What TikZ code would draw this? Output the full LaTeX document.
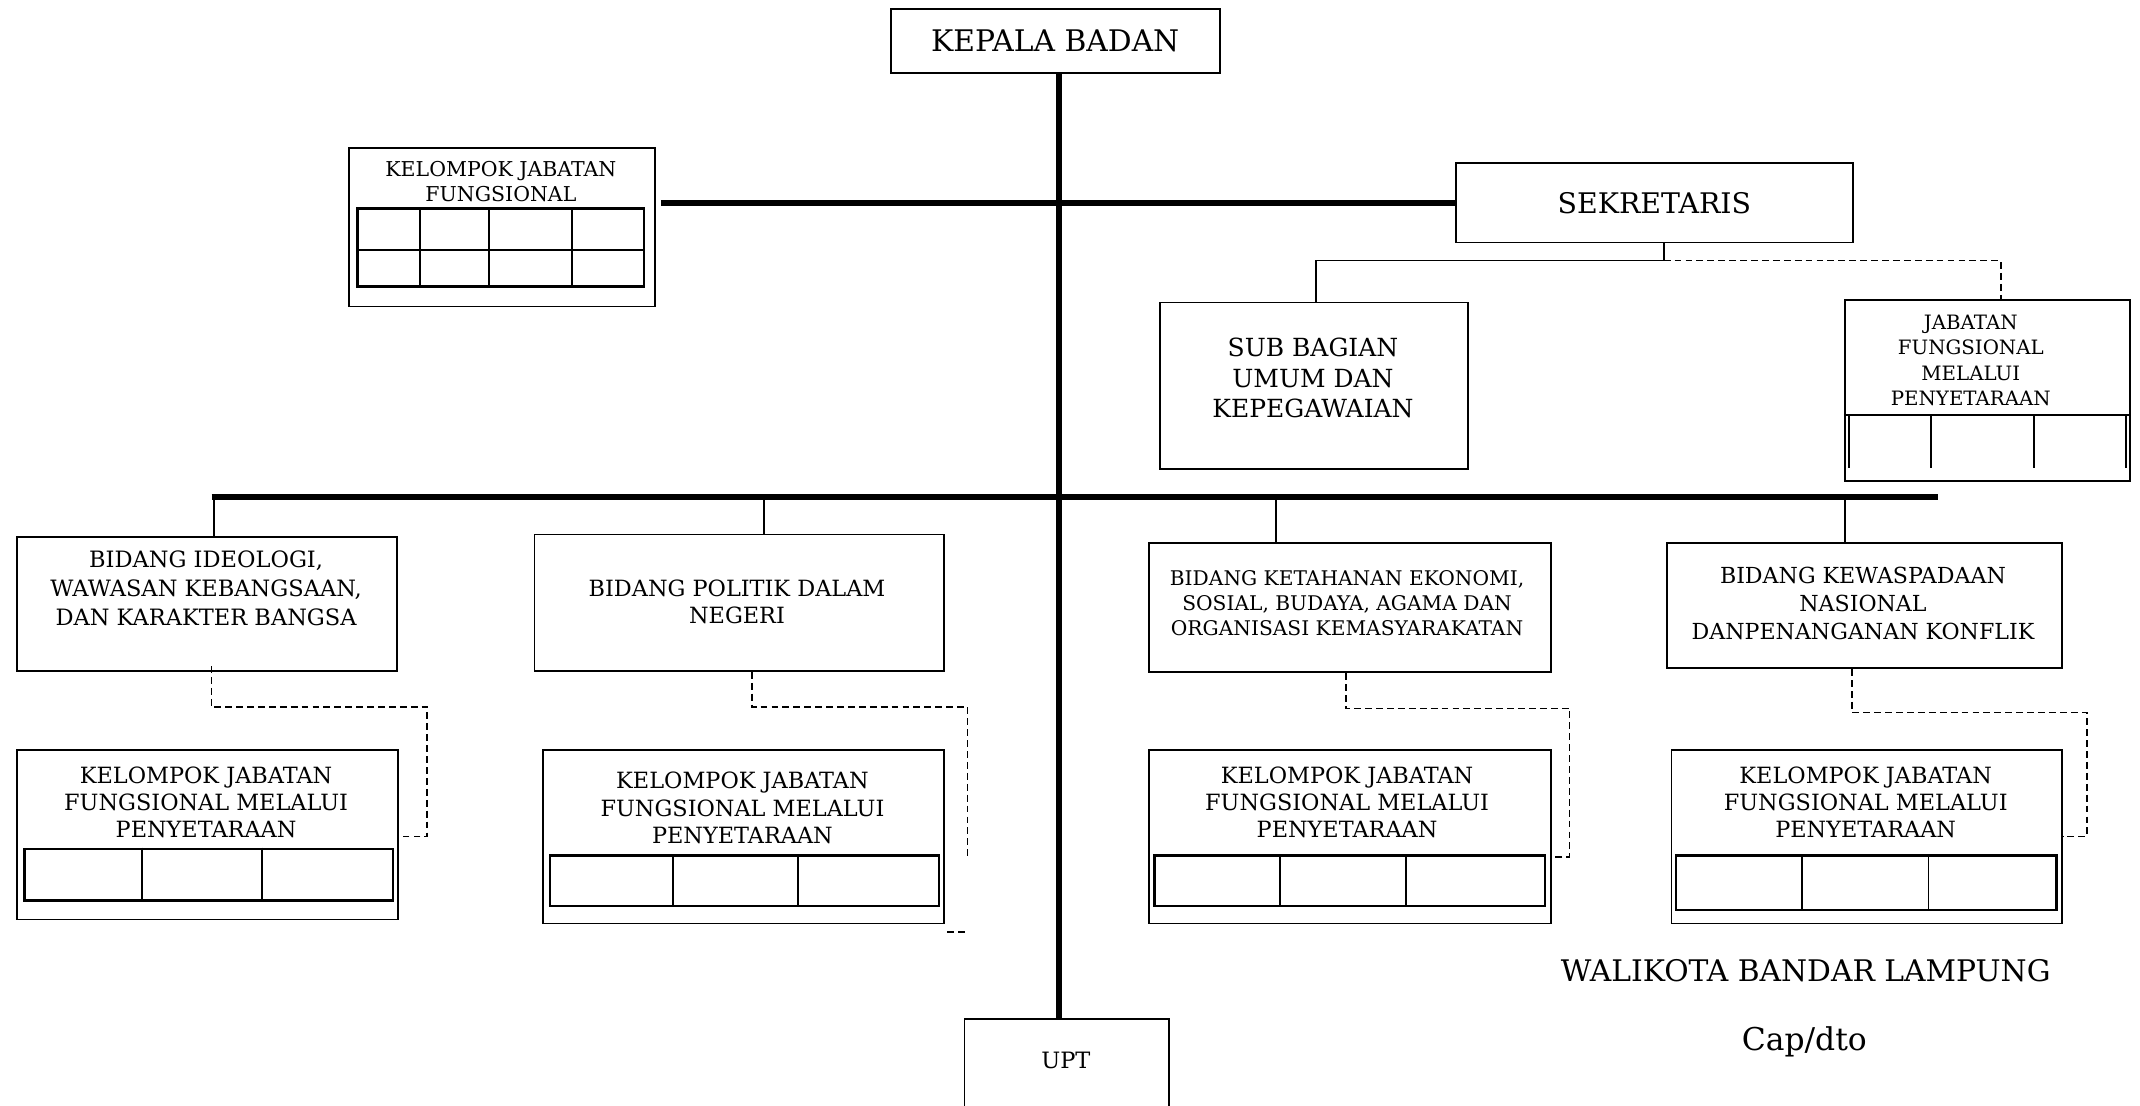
\documentclass[tikz,border=0pt]{standalone}
\usepackage{fontspec}
\setmainfont{DejaVu Serif}
\newcommand\fs[2]{\fontsize{#1}{#2}\selectfont}
\newcommand\boxat[6][box]{\node[#1,minimum width={(#4)-(#2)},minimum height={(#5)-(#3)}] (#6) at (#2,#3) {};}
\begin{document}
\begin{tikzpicture}[x=1pt,y=-1pt,
  box/.style={draw,line width=1.3pt,inner sep=0pt,anchor=north west},
  gridbox/.style={draw,line width=1.8pt,inner sep=0pt,anchor=north west},
  gridl/.style={line width=1.4pt},
  thickl/.style={line width=4pt},
  thinl/.style={line width=1.2pt},
  dashl/.style={line width=1.2pt,dash pattern=on 5pt off 3pt},
  txt/.style={align=center,inner sep=0pt}]
\useasboundingbox (0,0) rectangle (1568,810);

% top boxes
\boxat{652}{6}{893}{53}{kepala}
\node[txt,font=\fs{21.8}{25}] (kepalat) at (kepala) {KEPALA BADAN};
\boxat{1066}{119}{1357}{177}{sek}
\node[txt,font=\fs{20.8}{24}] (sekt) at (sek) {SEKRETARIS};

% kelompok jabatan fungsional (top left)
\boxat{255}{108}{479}{224}{kjf}
\node[txt,font=\fs{15}{18}] (kjft) at (367,133) {KELOMPOK JABATAN\\FUNGSIONAL};
\boxat[gridbox]{261}{152}{471}{209}{kjfg}
\draw[gridl] (kjfg.west |- 0,183) -- (kjfg.east |- 0,183);
\foreach \xx in {308,358,419} \draw[gridl] (kjfg.north -| \xx,0) -- (kjfg.south -| \xx,0);

% sub bagian
\boxat{849}{221}{1075}{343}{sub}
\node[txt,font=\fs{18.3}{22.5}] (subt) at (962,277) {SUB BAGIAN\\UMUM DAN\\KEPEGAWAIAN};

% jabatan fungsional melalui penyetaraan
\boxat{1351}{219}{1560}{352}{jab}
\node[txt,font=\fs{14.5}{18.5}] (jabt) at (1444,264) {JABATAN\\FUNGSIONAL\\MELALUI\\PENYETARAAN};
\draw[gridl] (jab.west |- 0,304) -- (jab.east |- 0,304);
\foreach \xx in {1355,1415,1490,1558} \draw[gridl] (\xx,304) -- (\xx,343);

% bidang
\boxat{12}{393}{290}{491}{b1}
\node[txt,font=\fs{16.5}{21.5}] (b1t) at (151,431) {BIDANG IDEOLOGI,\\WAWASAN KEBANGSAAN,\\DAN KARAKTER BANGSA};
\boxat{391}{391}{691}{491}{b2}
\node[txt,font=\fs{16.4}{20}] (b2t) at (540,441) {BIDANG POLITIK DALAM\\NEGERI};
\boxat{841}{397}{1136}{492}{b3}
\node[txt,font=\fs{14.8}{18.5}] (b3t) at (987,442) {BIDANG KETAHANAN EKONOMI,\\SOSIAL, BUDAYA, AGAMA DAN\\ORGANISASI KEMASYARAKATAN};
\boxat{1221}{397}{1510}{489}{b4}
\node[txt,font=\fs{16.2}{20.5}] (b4t) at (1365,442) {BIDANG KEWASPADAAN\\NASIONAL\\DANPENANGANAN KONFLIK};

% kelompok boxes
\boxat{12}{549}{291}{673}{k1}
\node[txt,font=\fs{16.4}{20}] (k1t) at (151,588) {KELOMPOK JABATAN\\FUNGSIONAL MELALUI\\PENYETARAAN};
\boxat[gridbox]{17}{621}{287}{659}{k1g}
\foreach \xx in {104,192} \draw[gridl] (k1g.north -| \xx,0) -- (k1g.south -| \xx,0);

\boxat{397}{549}{691}{676}{k2}
\node[txt,font=\fs{16.4}{20}] (k2t) at (544,592) {KELOMPOK JABATAN\\FUNGSIONAL MELALUI\\PENYETARAAN};
\boxat[gridbox]{402}{626}{687}{663}{k2g}
\foreach \xx in {493,585} \draw[gridl] (k2g.north -| \xx,0) -- (k2g.south -| \xx,0);

\boxat{841}{549}{1136}{676}{k3}
\node[txt,font=\fs{16.4}{20}] (k3t) at (987,588) {KELOMPOK JABATAN\\FUNGSIONAL MELALUI\\PENYETARAAN};
\boxat[gridbox]{845}{626}{1131}{663}{k3g}
\foreach \xx in {938,1030} \draw[gridl] (k3g.north -| \xx,0) -- (k3g.south -| \xx,0);

\boxat{1224}{549}{1510}{676}{k4}
\node[txt,font=\fs{16.4}{20}] (k4t) at (1367,588) {KELOMPOK JABATAN\\FUNGSIONAL MELALUI\\PENYETARAAN};
\boxat[gridbox]{1227}{626}{1506}{666}{k4g}
\foreach \xx in {1320,1413} \draw[gridl] (k4g.north -| \xx,0) -- (k4g.south -| \xx,0);

% UPT
\boxat{706}{746}{856}{830}{upt}
\node[txt,font=\fs{16.5}{18}] (uptt) at (781,777) {UPT};

% signature
\node[txt,font=\fs{21.8}{25}] (wali) at (1323,711) {WALIKOTA BANDAR LAMPUNG};
\node[txt,font=\fs{23}{25}] (cap) at (1322,763) {Cap/dto};

% thick lines
\coordinate (spinetop) at (776,53);
\draw[thickl] (spinetop) -- (spinetop |- upt.north);
\draw[thickl] ([xshift=4pt]kjf.east |- sek.west) -- (sek.west);
\coordinate (hl) at (155,364);
\coordinate (hr) at (1420,364);
\draw[thickl] (hl) -- (hr);

% drops to bidang
\draw[thinl] (157,364) -- (157,0 |- b1.north);
\draw[thinl] (560,364) -- (560,0 |- b2.north);
\draw[thinl] (935,364) -- (935,0 |- b3.north);
\draw[thinl] (1352,364) -- (1352,0 |- b4.north);

% sekretaris children
\coordinate (sj) at (1219,191);
\draw[thinl] (sek.south -| sj) -- (sj) -- (964,191) -- (964,0 |- sub.north);
\draw[dashl] (sj) -- (1466,191) -- (1466,0 |- jab.north);

% dashed bidang -> kelompok
\draw[dashl] (155,488) -- (155,518) -- (313,518) -- (313,613) -- (k1.east |- 0,613);
\draw[dashl] (551,0 |- b2.south) -- (551,518) -- (709,518) -- (709,630);
\coordinate (frag) at (694,683);
\draw[dashl] (frag) -- ++(15,0);
\draw[dashl] (986,0 |- b3.south) -- (986,519) -- (1150,519) -- (1150,628) -- (k3.east |- 0,628);
\draw[dashl] (1357,0 |- b4.south) -- (1357,522) -- (1529,522) -- (1529,613) -- (k4.east |- 0,613);
\end{tikzpicture}
\end{document}
